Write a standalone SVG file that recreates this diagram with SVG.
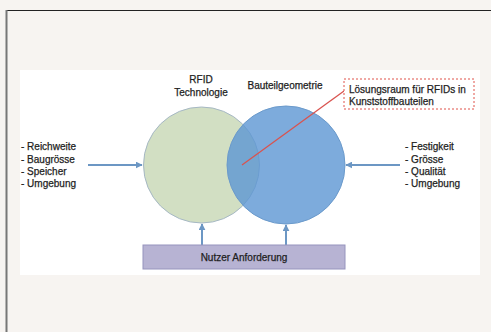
<svg xmlns="http://www.w3.org/2000/svg" width="491" height="332" viewBox="0 0 491 332">
<defs>
<style>
.t{font-family:"Liberation Sans",Arial,sans-serif;font-size:10px;fill:#1e1e1e;stroke:#1e1e1e;stroke-width:0.25;}
.arr{stroke:#6c97c4;stroke-width:2;fill:none;}
</style>
<marker id="ah" viewBox="0 0 10 10" refX="9" refY="5" markerWidth="3.5" markerHeight="3.5" orient="auto">
<path d="M0,0 L10,5 L0,10 z" fill="#6c97c4"/>
</marker>
</defs>
<rect x="0" y="0" width="491" height="332" fill="#f7f4f1"/>
<line x1="6" y1="10.5" x2="491" y2="10.5" stroke="#222" stroke-width="1"/>
<line x1="6.5" y1="10" x2="6.5" y2="332" stroke="#777" stroke-width="2"/>
<rect x="20" y="70" width="460" height="205" fill="#ffffff"/>
<g id="connectors">
<line class="arr" x1="88" y1="165" x2="142" y2="165" marker-end="url(#ah)"/>
<line class="arr" x1="400" y1="165" x2="346" y2="165" marker-end="url(#ah)"/>
<line class="arr" x1="202" y1="245" x2="202" y2="224" marker-end="url(#ah)"/>
<line class="arr" x1="286" y1="245" x2="286" y2="225" marker-end="url(#ah)"/>
</g>
<g id="rfid">
<circle cx="201.5" cy="165" r="58" fill="#d2dfc3" stroke="#a6b8c4" stroke-width="1"/>
<text class="t" x="201" y="83" text-anchor="middle">RFID</text>
<text class="t" x="201" y="96" text-anchor="middle">Technologie</text>
</g>
<g id="bauteil">
<circle cx="286" cy="165" r="59" fill="#5d96d3" fill-opacity="0.8" stroke="#6b9acb" stroke-width="1"/>
<text class="t" x="285" y="89" text-anchor="middle">Bauteilgeometrie</text>
</g>
<g id="loesung">
<line x1="242" y1="165" x2="344" y2="91" stroke="#d9534f" stroke-width="1.3"/>
<rect x="344" y="79" width="130" height="30" fill="#ffffff" stroke="#e0524a" stroke-width="1" stroke-dasharray="2,2"/>
<text class="t" x="349" y="93">Lösungsraum für RFIDs in</text>
<text class="t" x="349" y="104.5">Kunststoffbauteilen</text>
</g>
<g id="left-list">
<text class="t" x="21" y="150">- Reichweite</text>
<text class="t" x="21" y="162.5">- Baugrösse</text>
<text class="t" x="21" y="175">- Speicher</text>
<text class="t" x="21" y="187">- Umgebung</text>
</g>
<g id="right-list">
<text class="t" x="405" y="150">- Festigkeit</text>
<text class="t" x="405" y="162.5">- Grösse</text>
<text class="t" x="405" y="175">- Qualität</text>
<text class="t" x="405" y="187">- Umgebung</text>
</g>
<g id="nutzer">
<rect x="143" y="245" width="202" height="24" fill="#b7b3d3" stroke="#9694bd" stroke-width="1"/>
<text class="t" x="244" y="261" text-anchor="middle">Nutzer Anforderung</text>
</g>
</svg>
